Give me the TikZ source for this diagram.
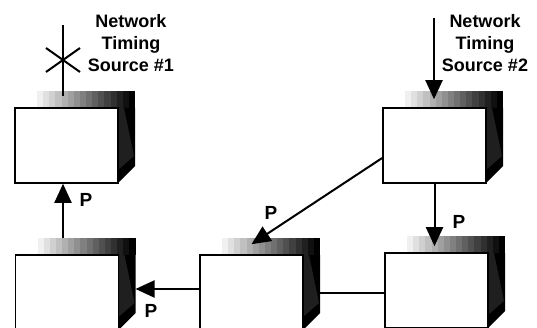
\documentclass[tikz,border=0pt]{standalone}
\usepackage{fontspec}
\setmainfont{Liberation Sans}
\usetikzlibrary{arrows.meta}

% One network element: a white front face with a stepped grey top band
% and a dark side face. #1 = node name, #2 = top-left corner of the face.
\newcommand{\netunit}[2]{%
  \begin{scope}[shift={#2}]
    \foreach \i in {0,...,15} {
      \pgfmathsetmacro{\g}{6+\i*94/15}
      \fill[black!\g] (22+\i*6.125,-17) rectangle ++(6.3,17);
    }
    \fill[black] (103,0) -- (120,0) -- (120,58) -- (103,75) -- cycle;
    \fill[black!88] (103,0) -- (109,0) -- (119,48) -- (103,62) -- cycle;
    \node[unitface] (#1) at (51.5,37.5) {};
    \coordinate (#1-bt) at (22,-17);
    \coordinate (#1-sr) at (120,-17);
  \end{scope}}

\begin{document}
\begin{tikzpicture}[x=1pt,y=-1pt,
  unitface/.style={draw=black,fill=white,line width=1.6pt,inner sep=0pt,
    minimum width=103pt,minimum height=75pt},
  link/.style={line width=2pt},
  arr/.style={link,-{Triangle[length=19pt,width=17pt]}},
  title/.style={font=\bfseries\fontsize{18}{22}\selectfont,align=center,
    inner sep=0pt,anchor=north},
  plabel/.style={font=\bfseries\fontsize{19}{19}\selectfont,inner sep=0pt}]
  \useasboundingbox (0,0) rectangle (537,328);
  \clip (0,0) rectangle (537,328);
  \fill[white] (0,0) rectangle (537,328);

  \netunit{b1}{(15,108)}
  \netunit{b2}{(383,108)}
  \netunit{b3}{(15.5,255)}
  \netunit{b4}{(200,255)}
  \netunit{b5}{(385,253)}

  % timing sources
  \node[title] (t1) at (131,14.5) {Network\\Timing\\Source \#1};
  \node[title] (t2) at (485,14.5) {Network\\Timing\\Source \#2};

  \coordinate (s1) at (63,25);
  \coordinate (x1) at (63,60);
  \draw[link] (s1) -- ([yshift=11pt]b1.north -| s1);
  \draw[link] ([shift={(-17pt,12pt)}]x1) -- ([shift={(17pt,-12pt)}]x1);
  \draw[link] ([shift={(-17pt,-12pt)}]x1) -- ([shift={(17pt,12pt)}]x1);

  \coordinate (s2) at (434,18);
  \draw[arr] (s2) -- ([yshift=8pt]b2.north -| s2);

  % attachment points on the faces
  \coordinate (w4) at ([yshift=3.5pt]b4.west);
  \coordinate (w5) at ([yshift=-2.5pt]b5.west);
  \coordinate (b1in) at ([xshift=-3.5pt]b1.south);
  \coordinate (b2out) at ([yshift=-12.5pt]b2.west);
  \coordinate (b4in) at ([yshift=10pt]b4.north);
  \coordinate (b5in) at ([yshift=6pt]b5.north);

  % timing links
  \draw[arr] (b1in |- b3-bt) -- (b1in);
  \draw[arr] (w4) -- (b3-sr |- w4);
  \draw[link] (b4-sr |- w5) -- (w5);
  \draw[arr] (b2.south) -- (b5in -| b2.south);
  \draw[arr] (b2out) -- (b4in);

  \node[plabel] (p1) at (86,200) {P};
  \node[plabel] (p2) at (151,311) {P};
  \node[plabel] (p3) at (459,222) {P};
  \node[plabel] (p4) at (271,213) {P};
\end{tikzpicture}
\end{document}
